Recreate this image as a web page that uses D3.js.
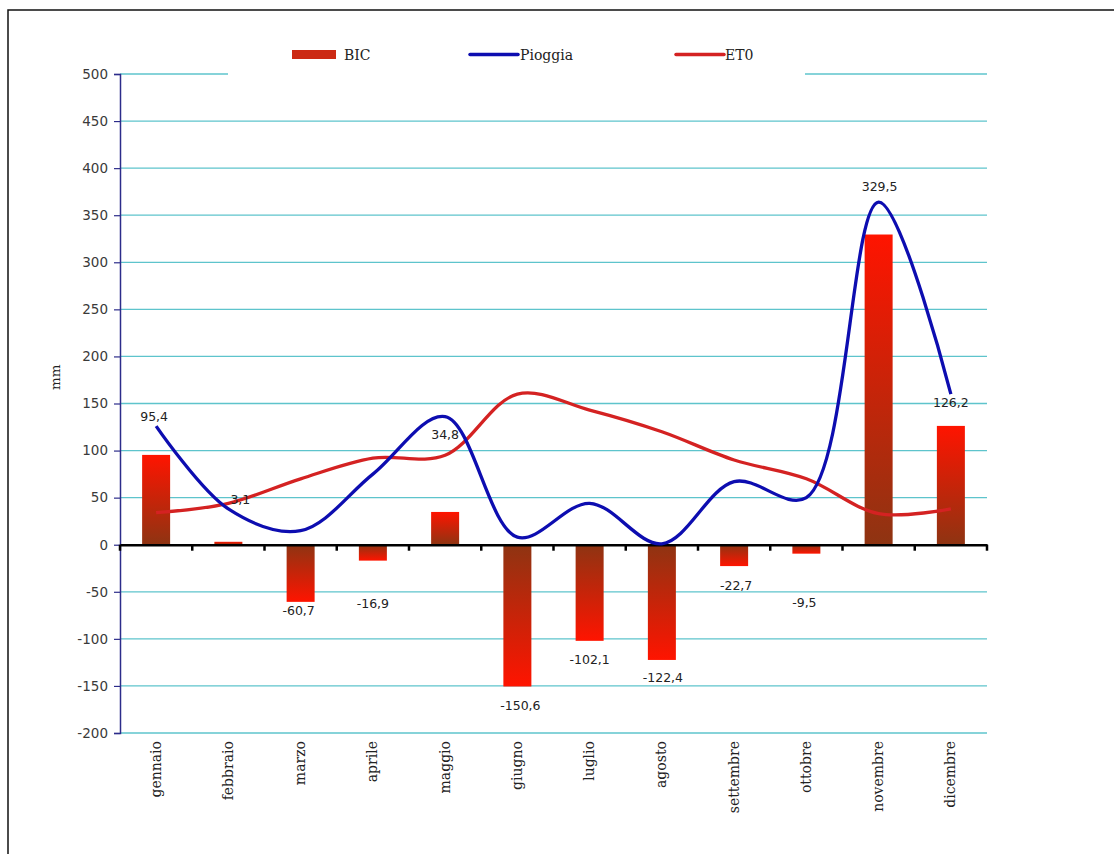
<!DOCTYPE html>
<html>
<head>
<meta charset="utf-8">
<script src="https://cdn.jsdelivr.net/npm/d3@7"></script>
<style>
  html, body { margin: 0; padding: 0; background: #fff; }
  svg { display: block; }
</style>
</head>
<body>
<svg id="chart" width="1114" height="854"></svg>
<script>
// Monthly water balance (mm)
const months = ["gennaio", "febbraio", "marzo", "aprile", "maggio", "giugno",
                "luglio", "agosto", "settembre", "ottobre", "novembre", "dicembre"];
const bic = [95.4, 3.1, -60.7, -16.9, 34.8, -150.6, -102.1, -122.4, -22.7, -9.5, 329.5, 126.2];
const pioggia = [126, 38, 15, 75, 136, 8, 44, 1, 67, 50, 364, 160];
const et0 = [34, 44, 70, 92, 95, 160, 143, 120, 90, 70, 33, 38];
const yTicks = [-200, -150, -100, -50, 0, 50, 100, 150, 200, 250, 300, 350, 400, 450, 500];

// Where each BIC value label sits (mm level) and its sideways nudge (px)
const labelLevel = [135.6, 47.5, -70.4, -63, 116.5, -171.3, -122.5, -141.6, -43.9, -62, 380, 150.5];
const labelDx = [-2, 12, -2, 0, 0, 3, 0, 1, 2, -2, 1, 0];

const svg = d3.select("#chart");
const plotLeft = 120, plotRight = 987, plotTop = 74, plotBottom = 733;

const x = d3.scaleBand().domain(months).range([plotLeft, plotRight]).paddingInner(0).paddingOuter(0);
const y = d3.scaleLinear().domain([-200, 500]).range([plotBottom, plotTop]);
const cx = m => x(m) + x.bandwidth() / 2;
const barW = 28;

// outer frame (only top and left edges fall inside the view)
svg.append("rect")
  .attr("x", 8).attr("y", 10).attr("width", 1300).attr("height", 1000)
  .attr("fill", "#fff").attr("stroke", "#111").attr("stroke-width", 1.5);

// gradients: dark at the zero line, bright red at the bar end
const defs = svg.append("defs");
const gPos = defs.append("linearGradient").attr("id", "gPos")
  .attr("x1", 0).attr("y1", 1).attr("x2", 0).attr("y2", 0);
gPos.append("stop").attr("offset", "0%").attr("stop-color", "#8e3412");
gPos.append("stop").attr("offset", "100%").attr("stop-color", "#ff1400");
const gNeg = defs.append("linearGradient").attr("id", "gNeg")
  .attr("x1", 0).attr("y1", 0).attr("x2", 0).attr("y2", 1);
gNeg.append("stop").attr("offset", "0%").attr("stop-color", "#8e3412");
gNeg.append("stop").attr("offset", "100%").attr("stop-color", "#ff1400");

// horizontal gridlines
svg.append("g").selectAll("line")
  .data(yTicks.filter(t => t !== 0))
  .join("line")
  .attr("x1", plotLeft).attr("x2", plotRight)
  .attr("y1", d => y(d)).attr("y2", d => y(d))
  .attr("stroke", "#5ec4cc").attr("stroke-width", 1.3);

// y axis (plain hyphen for negatives)
const yAxis = d3.axisLeft(y).tickValues(yTicks).tickSize(6).tickPadding(6).tickFormat(d => String(d));
const gy = svg.append("g").attr("transform", `translate(${plotLeft},0)`).call(yAxis);
gy.select(".domain").attr("stroke", "#2c2c8a").attr("stroke-width", 1.5);
gy.selectAll(".tick line").attr("stroke", "#2c2c8a").attr("stroke-width", 1.2);
gy.selectAll(".tick text")
  .attr("fill", "#3a3a3a").attr("font-family", "'DejaVu Sans', Verdana, sans-serif")
  .attr("font-size", 13.5);

// y axis title
svg.append("text")
  .attr("transform", `translate(60,${y(178)}) rotate(-90)`)
  .attr("text-anchor", "middle")
  .attr("font-family", "'DejaVu Serif', 'Liberation Serif', serif")
  .attr("font-size", 13.5).attr("fill", "#222")
  .text("mm");

// BIC bars
svg.append("g").selectAll("rect")
  .data(months)
  .join("rect")
  .attr("x", (m) => cx(m) - barW / 2)
  .attr("width", barW)
  .attr("y", (m, i) => y(Math.max(0, bic[i])))
  .attr("height", (m, i) => Math.abs(y(bic[i]) - y(0)))
  .attr("fill", (m, i) => bic[i] >= 0 ? "url(#gPos)" : "url(#gNeg)");

// zero line with category ticks
const xAxis = d3.axisBottom(x).tickSize(0).tickFormat("");
const gx = svg.append("g").attr("transform", `translate(0,${y(0)})`).call(xAxis);
gx.select(".domain").attr("stroke", "#000").attr("stroke-width", 2.5);
svg.append("g").selectAll("line")
  .data(d3.range(months.length + 1))
  .join("line")
  .attr("x1", i => plotLeft + i * x.bandwidth()).attr("x2", i => plotLeft + i * x.bandwidth())
  .attr("y1", y(0)).attr("y2", y(0) + 6)
  .attr("stroke", "#000").attr("stroke-width", 2.5);

// category labels along the bottom
svg.append("g").selectAll("text")
  .data(months)
  .join("text")
  .attr("transform", m => `translate(${cx(m) + 4.5},${plotBottom + 8}) rotate(-90)`)
  .attr("text-anchor", "end")
  .attr("font-family", "'DejaVu Serif', 'Liberation Serif', serif")
  .attr("font-size", 14).attr("fill", "#222")
  .text(m => m);

// smoothed lines
const line = d3.line()
  .x((d, i) => cx(months[i]))
  .y(d => y(d))
  .curve(d3.curveCatmullRom.alpha(0.5));

svg.append("path").datum(et0)
  .attr("d", line).attr("fill", "none")
  .attr("stroke", "#d42222").attr("stroke-width", 3.3)
  .attr("stroke-linejoin", "round");
svg.append("path").datum(pioggia)
  .attr("d", line).attr("fill", "none")
  .attr("stroke", "#0d0db0").attr("stroke-width", 3.3)
  .attr("stroke-linejoin", "round");

// BIC value labels
const fmt = v => v.toFixed(1).replace(".", ",");
svg.append("g").selectAll("text")
  .data(months)
  .join("text")
  .attr("x", (m, i) => cx(m) + labelDx[i])
  .attr("y", (m, i) => y(labelLevel[i]))
  .attr("dy", "0.35em")
  .attr("text-anchor", "middle")
  .attr("font-family", "'DejaVu Sans', Verdana, sans-serif")
  .attr("font-size", 12.5).attr("fill", "#222")
  .text((m, i) => fmt(bic[i]));

// legend
const legend = svg.append("g");
legend.append("rect")
  .attr("x", 228).attr("y", 36).attr("width", 577).attr("height", 48)
  .attr("fill", "#fff");
const lgFont = "'DejaVu Serif', 'Liberation Serif', serif";
legend.append("rect")
  .attr("x", 292).attr("y", 50).attr("width", 44).attr("height", 9)
  .attr("fill", "#cc2a14");
legend.append("text").attr("x", 344).attr("y", 60)
  .attr("font-family", lgFont).attr("font-size", 14).attr("fill", "#222").text("BIC");
legend.append("line")
  .attr("x1", 470).attr("x2", 518).attr("y1", 54.5).attr("y2", 54.5)
  .attr("stroke", "#0d0db0").attr("stroke-width", 3.5).attr("stroke-linecap", "round");
legend.append("text").attr("x", 520).attr("y", 60)
  .attr("font-family", lgFont).attr("font-size", 14).attr("fill", "#222").text("Pioggia");
legend.append("line")
  .attr("x1", 676).attr("x2", 724).attr("y1", 54.5).attr("y2", 54.5)
  .attr("stroke", "#d42222").attr("stroke-width", 3.5).attr("stroke-linecap", "round");
legend.append("text").attr("x", 725).attr("y", 60)
  .attr("font-family", lgFont).attr("font-size", 14).attr("fill", "#222").text("ET0");
</script>
</body>
</html>
